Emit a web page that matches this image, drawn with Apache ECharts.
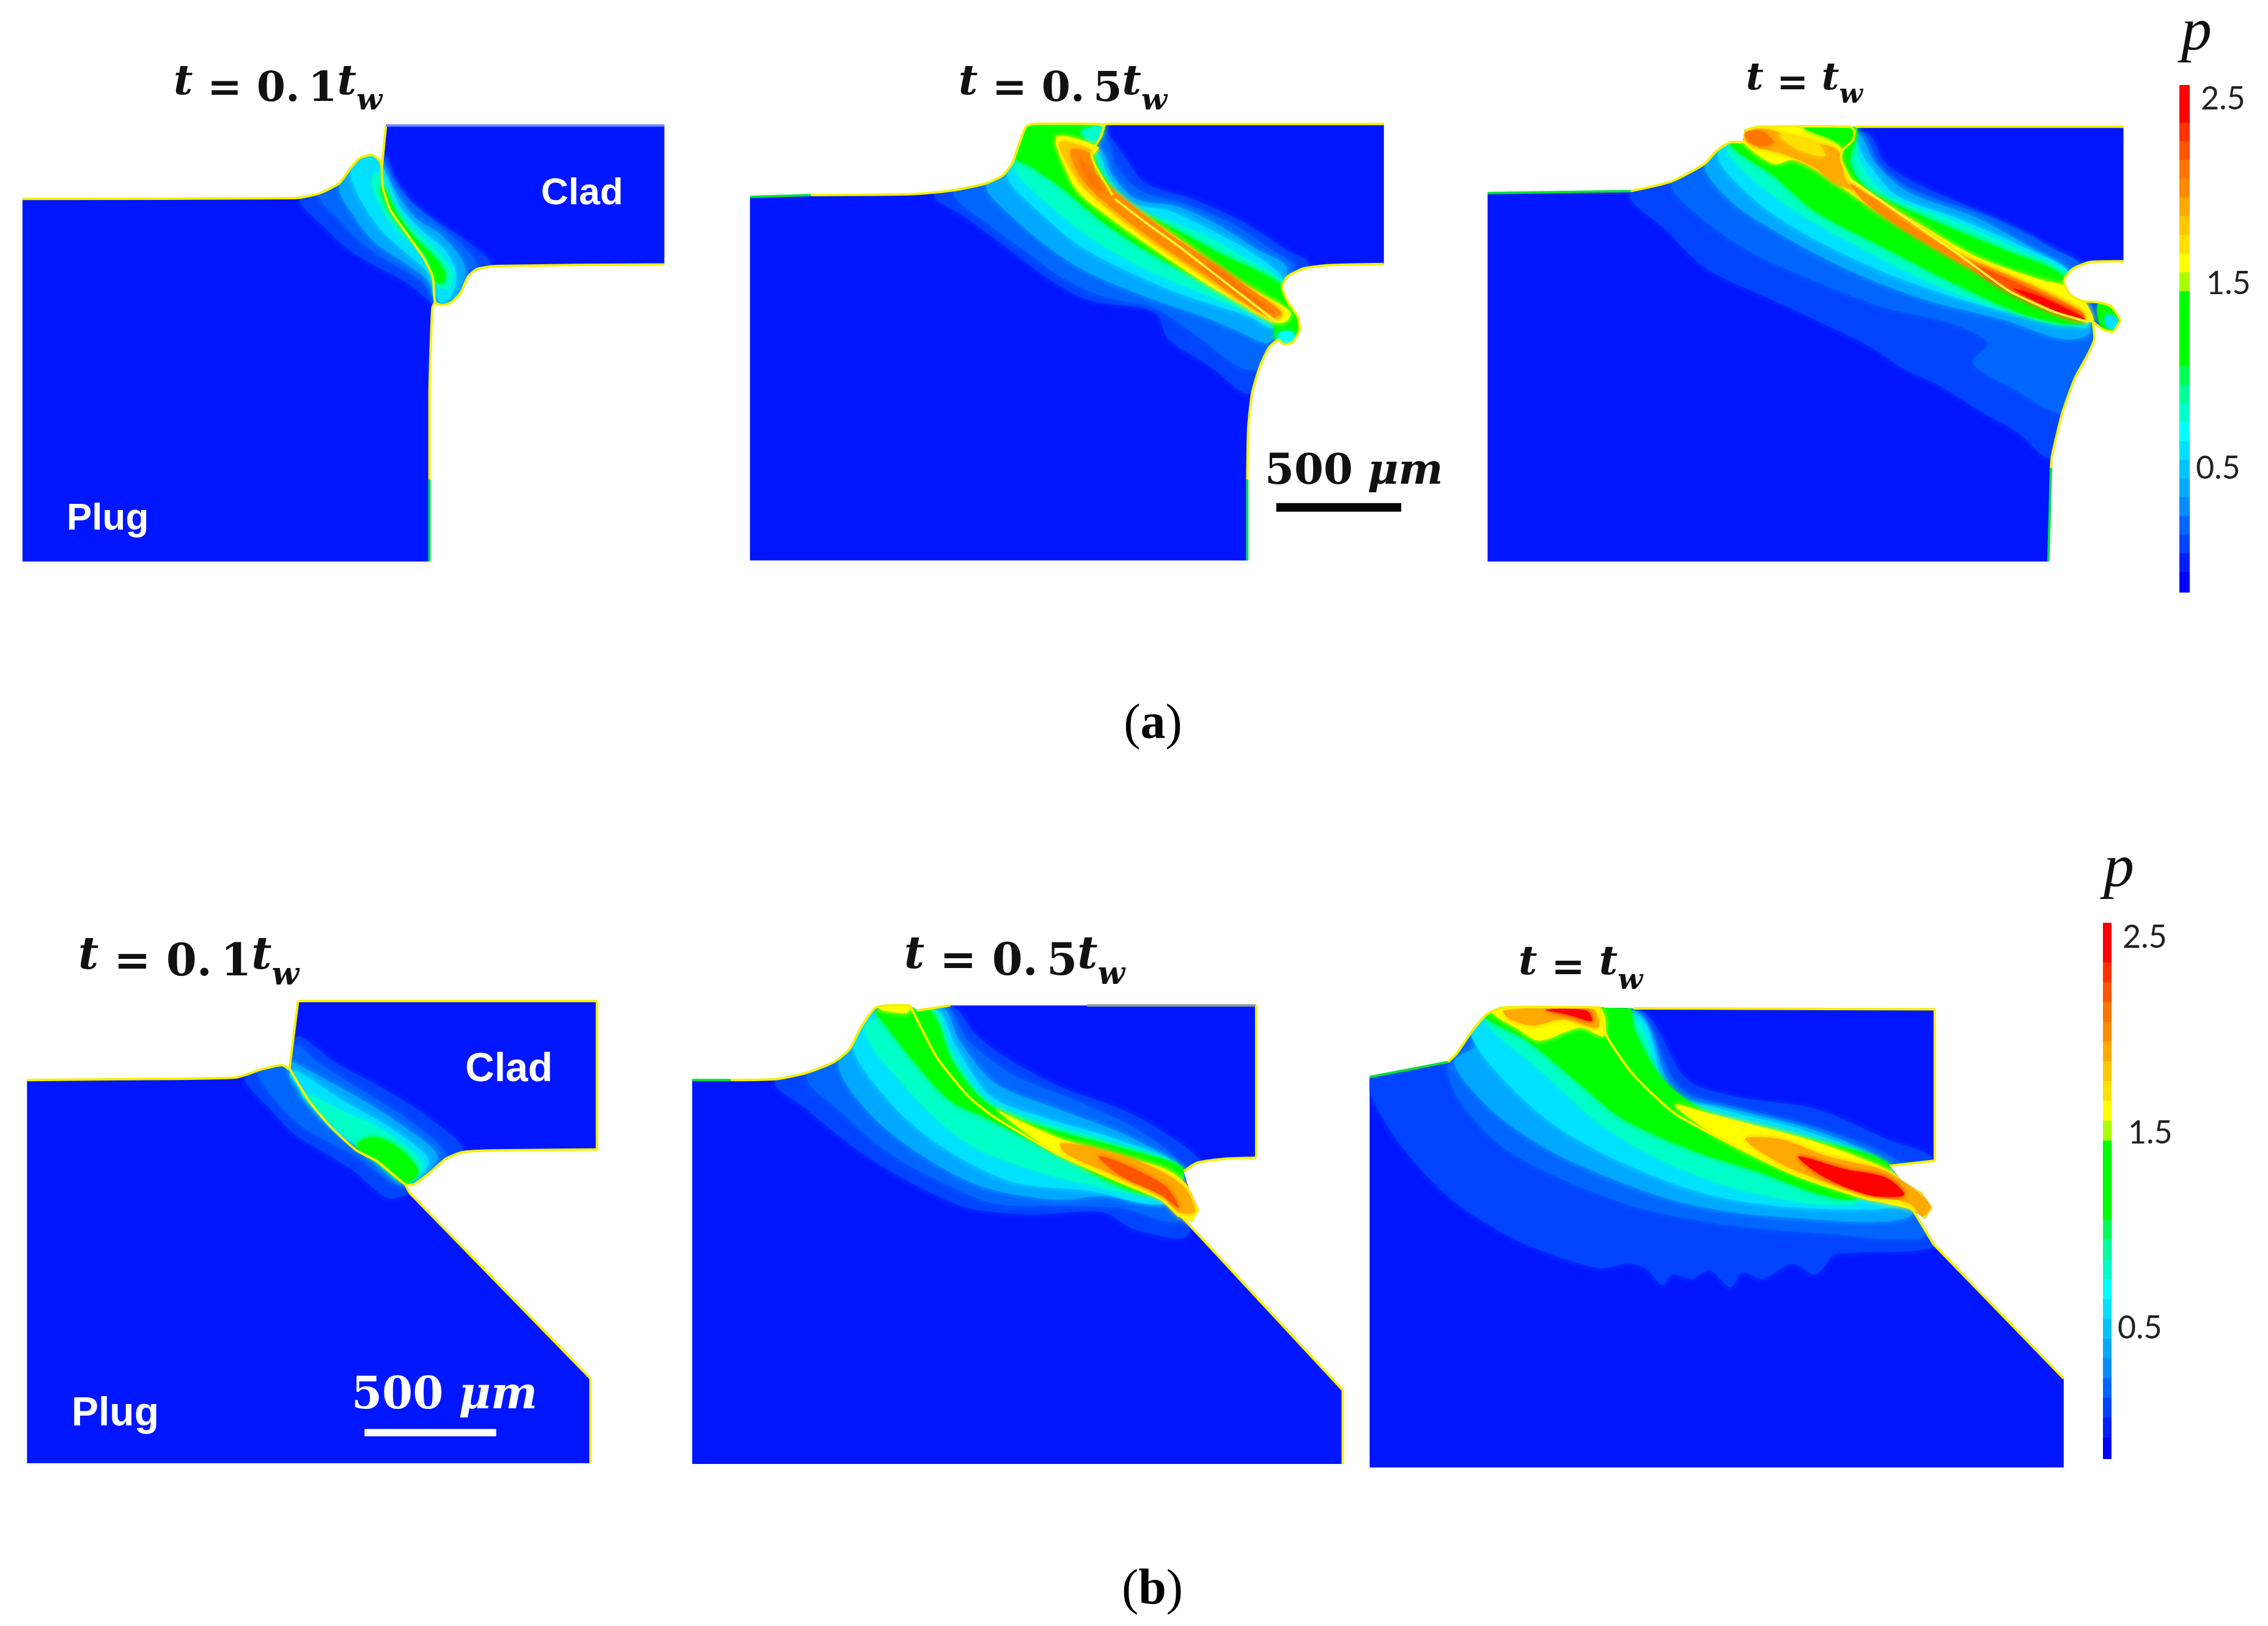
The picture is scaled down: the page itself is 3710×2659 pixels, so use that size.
<!DOCTYPE html>
<html>
<head>
<meta charset="utf-8">
<title>Plastic strain p during friction plug welding</title>
<style>
html, body { margin: 0; padding: 0; background: #fff; }
#main { width: 3710px; height: 2659px; }
</style>
<script src="https://cdn.jsdelivr.net/npm/echarts@6/dist/echarts.min.js"></script>
</head>
<body>
<div id="main"></div>
<script>
// colour bar: p at the cell edges, top to bottom, and the cell colours
var barEdges = [2.576, 2.475, 2.373, 2.272, 2.171, 2.069, 1.968, 1.867, 1.765, 1.664, 1.563, 1.461,
    1.36, 1.259, 1.157, 1.056, 0.955, 0.853, 0.752, 0.651, 0.549, 0.448, 0.347, 0.245, 0.144, 0.043, -0.059, -0.166];
var barColors = ['#ff0000', '#ff0000', '#ff3300', '#ff5500', '#ff7700', '#ff8c00', '#ffaa00', '#ffc800', '#ffe000',
    '#ffff00', '#aaff00', '#00ff00', '#00ff00', '#00ff00', '#00ff00', '#00ff55', '#00ff99', '#00ffc8', '#00ffff',
    '#00e0ff', '#00c4ff', '#00a8ff', '#008cff', '#0066ff', '#0044ff', '#0020ff', '#0000ff'];
var barTicks = [0.5, 1.5, 2.5];
var barTickShift = [0, 17, 8];   // the labels do not line up in the figure

// outlines and contour bands, in each panel's own 0..1568 coordinates. band = [p, points]
var a1Domain = [[48,1440],[48,510],[630,508],[680,497],[725,470],[750,430],[770,405],[795,397],[812,412],[816,430],[825,322],[1420,322],[1420,678],[1060,682],[1020,690],[1000,710],[985,750],[965,775],[945,782],[930,775],[924,790],[918,1000],[918,1440]];
var a1Bands = [
    [0.1, [[640,505],[700,590],[745,640],[800,680],[870,725],[925,780],[950,800],[1000,720],[1050,680],[1000,620],[950,580],[890,530],[850,470],[825,400],[800,380],[750,420]]],
    [0.2, [[680,495],[730,570],[770,620],[830,670],[900,720],[925,760],[960,790],[1000,710],[1020,680],[980,620],[930,570],[880,520],[840,460],[820,410],[795,390],[745,430]]],
    [0.4, [[725,480],[760,560],[800,620],[860,670],[915,720],[935,780],[975,760],[995,700],[985,660],[940,600],[890,560],[850,500],[818,430],[795,400],[770,410]]],
    [0.65, [[750,440],[770,510],[815,590],[870,650],[915,700],[940,775],[965,760],[975,700],[950,640],[900,590],[855,530],[825,450],[810,405],[785,400]]],
    [0.85, [[795,460],[810,520],[850,590],[895,640],[920,690],[930,730],[960,740],[965,695],[930,640],[880,585],[845,530],[822,470],[815,440]]],
    [1.2, [[812,480],[835,545],[880,615],[915,665],[930,720],[948,725],[950,695],[925,655],[880,600],[845,540],[820,480]]]
];
var a1Edges = [
    ['#f4f000', [[48,510],[630,508],[680,497],[725,470],[750,430],[770,405],[795,397],[812,412],[816,430]]],
    ['#f4f000', [[825,322],[816,430]]],
    ['#f4f000', [[816,430],[818,480],[835,540],[870,600],[905,660],[925,710],[930,775],[945,782],[965,775],[985,750],[1000,710],[1020,690],[1060,682],[1420,678]]],
    ['#f4f000', [[930,775],[924,790],[918,1000]]],
    ['#f4f000', [[918,1000],[918,1230]]],
    ['#00e040', [[918,1230],[918,1440]]],
    ['#6f86ff', [[825,322],[1420,322]]]
];

var a2Domain = [[35,1437],[35,505],[165,500],[380,498],[470,488],[540,470],[575,450],[595,420],[610,370],[625,325],[640,318],[780,318],[793,318],[1390,318],[1390,677],[1270,680],[1220,688],[1185,708],[1172,735],[1185,775],[1205,810],[1210,845],[1195,878],[1175,882],[1165,870],[1145,890],[1125,940],[1108,1010],[1100,1100],[1098,1437]];
var a2Bands = [
    [0.1, [[430,495],[500,560],[590,640],[680,720],[760,770],[900,800],[930,870],[1020,940],[1100,1010],[1125,940],[1160,870],[1230,680],[1180,640],[1090,570],[980,510],[880,470],[840,410],[800,340],[790,318],[620,320]]],
    [0.2, [[470,490],[540,570],[620,640],[700,710],[790,760],[900,790],[1000,870],[1080,940],[1125,945],[1160,860],[1180,720],[1200,680],[1150,640],[1060,570],[960,520],[870,490],[820,430],[790,350],[600,330]]],
    [0.4, [[540,475],[600,560],[680,640],[760,700],[880,760],[1000,810],[1080,850],[1140,880],[1160,850],[1180,720],[1180,680],[1120,640],[1040,580],[950,530],[860,510],[810,450],[780,380],[620,400]]],
    [0.65, [[585,450],[660,550],[740,630],[850,700],[970,760],[1100,810],[1155,840],[1175,720],[1110,650],[1020,590],[930,540],[850,520],[800,450],[775,390],[640,360]]],
    [0.85, [[600,430],[700,550],[790,630],[900,700],[1000,750],[1120,810],[1160,830],[1175,730],[1090,660],[1000,600],[900,555],[830,520],[790,440],[770,390],[620,340]]],
    [1.2, [[600,400],[625,320],[795,318],[793,330],[770,400],[800,470],[850,530],[930,580],[1040,650],[1170,730],[1200,800],[1215,850],[1190,885],[1160,880],[1150,820],[1000,720],[880,640],[780,560],[700,480],[640,430]]],
    [0.7, [[1165,855],[1190,850],[1205,870],[1185,882],[1165,875]]],
    [0.85, [[745,335],[785,322],[790,345],[770,365],[750,355]]],
    [1.6, [[690,350],[780,378],[762,410],[800,480],[870,545],[960,620],[1060,705],[1130,755],[1190,800],[1180,825],[1150,825],[1070,770],[1000,720],[900,640],[800,555],[735,490],[705,420]]],
    [1.85, [[695,365],[765,385],[755,415],[790,485],[865,555],[955,630],[1050,715],[1120,765],[1175,805],[1155,818],[1080,770],[1005,710],[905,630],[805,540],[740,470]]],
    [2.0, [[720,385],[760,392],[775,445],[845,520],[945,610],[1045,690],[1115,750],[1170,800],[1150,815],[1085,770],[1015,710],[915,630],[815,540],[745,460]]],
    [2.15, [[1020,680],[1090,740],[1160,805],[1130,790],[1070,745],[1000,685]]],
    [2.15, [[740,405],[760,430],[790,490],[770,480],[748,440]]]
];
var a2Edges = [
    ['#00e040', [[35,505],[165,500]]],
    ['#f4f000', [[165,500],[380,498],[470,488],[540,470],[575,450],[595,420],[610,370],[625,325],[640,318],[780,318],[790,322]]],
    ['#f4f000', [[793,318],[785,350],[770,380],[765,400],[780,440],[810,500]]],
    ['#f4f000', [[793,318],[1390,318]]],
    ['#f4f000', [[1390,677],[1270,680],[1220,688],[1185,708],[1172,735],[1185,775],[1205,810],[1210,845],[1195,878],[1175,882],[1165,870]]],
    ['#f4f000', [[1165,870],[1145,890],[1125,940],[1108,1010],[1100,1100],[1098,1230]]],
    ['#00e040', [[1098,1230],[1098,1437]]],
    ['#ffee30', [[815,510],[880,570],[950,630],[1020,695],[1090,760],[1160,825]]]
];

var a3Domain = [[40,1440],[40,495],[320,490],[400,465],[465,420],[490,385],[515,365],[540,365],[543,335],[570,325],[750,325],[1285,325],[1285,670],[1220,672],[1185,690],[1168,720],[1180,755],[1205,772],[1235,775],[1260,785],[1278,820],[1265,850],[1245,845],[1225,825],[1228,870],[1215,910],[1190,970],[1165,1060],[1145,1170],[1143,1250],[1138,1440]];
var a3Bands = [
    [0.1, [[320,495],[390,590],[470,690],[600,770],[730,850],[790,890],[860,950],[920,985],[1000,1050],[1080,1110],[1140,1175],[1160,1080],[1200,960],[1230,860],[1300,700],[1190,670],[1100,600],[1000,540],[880,470],[820,420],[780,340],[540,330]]],
    [0.2, [[400,470],[460,560],[560,650],[680,720],[820,790],[950,830],[1020,880],[990,930],[1060,990],[1180,1060],[1230,870],[1200,680],[1150,640],[1030,560],[880,490],[810,430],[770,340],[500,340]]],
    [0.4, [[465,425],[520,520],[640,620],[760,700],[900,770],[1050,820],[1170,870],[1220,850],[1180,700],[1110,640],[1000,560],[860,490],[800,420],[760,340],[520,360]]],
    [0.65, [[490,400],[570,520],[690,620],[840,710],[1000,780],[1130,820],[1215,835],[1180,700],[1100,640],[960,560],[840,500],[780,410],[740,330],[540,340]]],
    [0.85, [[510,390],[620,520],[750,620],[900,720],[1040,790],[1180,830],[1180,710],[1080,640],[940,560],[820,500],[770,420],[750,340],[540,340]]],
    [1.2, [[515,368],[600,450],[680,540],[810,630],[960,730],[1100,810],[1210,825],[1170,710],[1050,640],[920,570],[790,490],[750,420],[760,325],[560,330]]],
    [1.6, [[540,335],[570,322],[660,330],[730,375],[730,410],[760,470],[880,570],[1000,660],[1130,720],[1165,730],[1210,775],[1225,825],[1150,800],[1030,710],[900,610],[800,540],[700,450],[640,410],[600,420],[540,365]]],
    [1.2, [[660,328],[755,328],[745,365],[700,350]]],
    [1.2, [[1235,780],[1262,790],[1278,820],[1265,850],[1240,835]]],
    [0.6, [[1250,810],[1272,815],[1268,845],[1252,835]]],
    [1.95, [[545,340],[590,332],[650,360],[725,385],[745,470],[850,560],[980,660],[1120,740],[1200,800],[1190,810],[1060,730],[930,620],[800,510],[720,470],[680,430],[620,395],[560,372]]],
    [1.7, [[610,345],[680,360],[700,400],[650,385]]],
    [2.05, [[750,470],[860,570],[980,665],[1100,735],[1205,800],[1205,820],[1100,770],[1000,700],[880,610],[780,520]]],
    [2.1, [[545,340],[575,335],[600,365],[575,375],[548,362]]],
    [2.2, [[990,680],[1060,715],[1130,760],[1210,815],[1170,810],[1100,775],[1030,725]]],
    [2.5, [[1070,740],[1130,765],[1210,818],[1165,805],[1110,770]]]
];
var a3Edges = [
    ['#00e040', [[40,495],[320,490]]],
    ['#f4f000', [[320,490],[400,465],[465,420],[490,385],[515,365],[540,365]]],
    ['#f4f000', [[543,335],[570,325],[750,325],[758,335],[755,360],[735,385],[732,410],[750,460]]],
    ['#f4f000', [[760,325],[1285,325]]],
    ['#f4f000', [[1285,670],[1220,672],[1185,690],[1168,720],[1180,755],[1205,772],[1235,775],[1260,785],[1278,820],[1265,850],[1245,845],[1225,825]]],
    ['#f4f000', [[1225,825],[1228,870],[1215,910],[1190,970],[1165,1060],[1145,1170],[1143,1200]]],
    ['#00e040', [[1143,1200],[1138,1440]]],
    ['#ffee30', [[750,460],[860,560],[960,650],[1060,745],[1150,800],[1215,825]]]
];

var b1Domain = [[63,1415],[63,522],[280,520],[550,516],[610,497],[658,487],[674,497],[695,338],[1392,338],[1392,684],[1150,686],[1080,690],[1040,705],[1000,740],[965,765],[945,765],[955,785],[1377,1218],[1377,1415]];
var b1Bands = [
    [0.1, [[570,515],[640,600],[690,650],[820,730],[900,795],[945,790],[965,770],[1080,690],[1000,610],[890,540],[780,480],[700,420],[680,430],[655,485]]],
    [0.2, [[600,505],[660,590],[720,640],[830,700],[940,770],[1040,700],[960,620],[850,550],[740,480],[690,440],[675,470],[640,490]]],
    [0.4, [[672,500],[740,600],[850,690],[950,765],[1020,700],[940,630],[830,560],[720,500],[680,480]]],
    [0.65, [[675,510],[760,620],[850,690],[950,760],[1000,710],[920,640],[800,570],[690,500]]],
    [0.85, [[700,550],[790,640],[860,690],[950,760],[985,720],[910,650],[790,590]]],
    [1.2, [[830,675],[880,712],[945,762],[975,735],[930,680],[870,655]]]
];
var b1Edges = [
    ['#f4f000', [[63,522],[280,520],[550,516],[610,497],[658,487],[674,497]]],
    ['#f4f000', [[695,338],[675,495]]],
    ['#f4f000', [[675,495],[720,570],[770,630],[830,685],[880,712],[945,765],[965,765],[1000,740],[1040,705],[1080,690],[1150,686],[1392,684]]],
    ['#f4f000', [[1392,684],[1392,338]]],
    ['#f4f000', [[1392,338],[695,338]]],
    ['#f4f000', [[945,765],[955,785]]],
    ['#f4f000', [[955,785],[1377,1218]]],
    ['#f4f000', [[1377,1218],[1377,1415]]]
];

var b2Domain = [[44,1417],[44,522],[130,522],[230,520],[300,505],[360,480],[395,450],[420,400],[455,352],[530,348],[545,360],[620,348],[1302,348],[1302,703],[1240,705],[1170,715],[1140,735],[1150,770],[1175,825],[1160,852],[1140,845],[1495,1245],[1495,1417]];
var b2Bands = [
    [0.1, [[230,522],[300,590],[420,690],[530,760],[660,820],[800,835],[960,830],[1030,870],[1140,890],[1160,850],[1180,720],[1090,640],[1000,590],[870,540],[760,480],[680,420],[620,348],[450,355]]],
    [0.2, [[300,510],[380,600],[480,690],[600,760],[720,810],[850,815],[1000,820],[1130,850],[1130,720],[1040,640],[900,570],[760,510],[660,430],[610,350],[455,355]]],
    [0.4, [[370,480],[440,600],[560,700],[690,770],[850,800],[1000,790],[1100,810],[1130,730],[1010,650],[860,590],[720,530],[640,430],[600,350],[450,360]]],
    [0.65, [[400,440],[500,590],[620,690],[760,760],[930,780],[1090,810],[1140,730],[990,660],[830,610],[710,560],[630,440],[590,360],[455,360]]],
    [0.85, [[430,400],[540,560],[660,670],[800,730],[950,770],[1080,790],[1130,730],[970,665],[820,620],[700,570],[620,450],[580,355]]],
    [1.2, [[455,360],[480,400],[540,480],[620,570],[700,610],[860,695],[1000,770],[1090,790],[1140,730],[1000,680],[820,630],[700,575],[625,480],[570,355]]],
    [1.6, [[720,590],[760,610],[870,660],[1000,700],[1100,730],[1150,770],[1175,825],[1160,855],[1130,840],[1090,800],[1000,760],[860,695]]],
    [1.9, [[865,670],[940,680],[1050,715],[1140,770],[1165,830],[1130,830],[1090,790],[1000,750],[880,695]]],
    [2.2, [[950,700],[1000,715],[1100,770],[1130,820],[1090,790],[1000,745]]],
    [1.6, [[455,350],[530,348],[525,365],[470,360]]]
];
var b2Edges = [
    ['#00e040', [[44,522],[130,522]]],
    ['#f4f000', [[130,522],[230,520],[300,505],[360,480],[395,450],[420,400],[455,352],[530,348]]],
    ['#f4f000', [[530,348],[545,380],[590,470],[660,560],[720,610],[860,695],[1000,760],[1090,800],[1130,840]]],
    ['#f4f000', [[545,360],[620,348]]],
    ['#8a9a9a', [[925,348],[1302,348]]],
    ['#f4f000', [[1302,348],[1302,703]]],
    ['#f4f000', [[1302,703],[1240,705],[1170,715],[1140,735]]],
    ['#f4f000', [[1140,845],[1495,1245]]],
    ['#f4f000', [[1495,1245],[1495,1417]]]
];

var b3Domain = [[42,1425],[42,515],[175,480],[190,460],[215,410],[240,370],[268,353],[432,353],[490,355],[1002,357],[1002,710],[925,722],[945,755],[980,785],[998,820],[985,845],[965,825],[1000,905],[1221,1218],[1221,1425]];
var b3Bands = [
    [0.1, [[42,520],[60,600],[110,700],[190,810],[300,900],[430,960],[480,950],[510,960],[540,1000],[555,975],[590,985],[620,965],[655,1005],[675,970],[710,985],[760,950],[800,975],[830,930],[860,925],[1000,910],[990,850],[1000,710],[920,660],[800,590],[660,560],[580,520],[500,360],[240,370],[175,480]]],
    [0.2, [[175,490],[200,580],[270,680],[380,760],[500,820],[650,860],[820,880],[980,890],[990,830],[950,720],[820,640],[680,590],[570,540],[490,360],[240,370]]],
    [0.4, [[190,470],[240,580],[340,680],[450,750],[580,810],[730,840],[960,840],[925,722],[800,640],[660,590],[560,550],[490,360]]],
    [0.65, [[215,420],[290,550],[370,640],[480,720],[620,790],[780,820],[950,810],[920,720],[780,640],[640,590],[550,550],[495,370],[240,370]]],
    [0.85, [[240,375],[350,520],[430,620],[540,710],[680,780],[860,810],[930,730],[760,650],[620,600],[540,550],[490,380]]],
    [1.2, [[240,372],[310,430],[390,520],[470,610],[580,680],[690,730],[860,800],[925,720],[760,650],[620,600],[540,520],[490,400],[485,355],[432,350]]],
    [1.6, [[560,580],[620,600],[690,625],[760,650],[830,680],[920,730],[980,785],[998,820],[985,845],[965,825],[890,800],[760,740],[640,660]]],
    [1.95, [[680,660],[740,660],[820,700],[910,730],[960,770],[995,815],[980,840],[960,810],[890,790],[760,730]]],
    [2.4, [[770,700],[850,730],[920,750],[950,790],[890,790],[810,745]]],
    [1.6, [[250,365],[270,353],[432,353],[440,420],[400,400],[330,430],[290,400]]],
    [1.95, [[270,360],[420,355],[430,400],[370,380],[320,395],[280,380]]],
    [2.4, [[340,358],[410,360],[420,385],[380,370]]]
];
var b3Edges = [
    ['#00e040', [[42,515],[175,480]]],
    ['#f4f000', [[175,480],[190,460],[215,410],[240,370],[268,353],[432,353]]],
    ['#f4f000', [[432,350],[445,420],[490,510],[560,600],[640,660],[760,740],[890,800],[940,805],[965,825]]],
    ['#f4f000', [[490,355],[1002,357]]],
    ['#f4f000', [[1002,357],[1002,710]]],
    ['#f4f000', [[1002,710],[925,722]]],
    ['#f4f000', [[965,825],[1000,905]]],
    ['#f4f000', [[1000,905],[1221,1218]]]
];

// scale bars, in the coordinates of their panels
var a2ScaleBar = [[1160,1301],[1427,1301]];
var b1ScaleBar = [[850,1344],[1157,1344]];

var panelBoxes = [
    [0, 0, 1200, 1000], [1200, 0, 1200, 1000], [2400, 0, 1310, 1000],
    [0, 1400, 1100, 1100], [1100, 1400, 1150, 1100], [2200, 1400, 1510, 1100]
];
var barBoxes = [[3565, 139, 17, 829], [3440, 1509, 14, 876]];

function colorOf(p) {
    for (var i = 0; i < barColors.length; i++) {
        if (p <= barEdges[i] && p > barEdges[i + 1]) return barColors[i];
    }
    return barColors[0];
}

var grids = [], xAxes = [], yAxes = [], series = [];

panelBoxes.forEach(function (b) {
    grids.push({ left: b[0], top: b[1], width: b[2], height: b[3] });
    xAxes.push({ gridIndex: grids.length - 1, type: 'value', min: 0, max: 1568, show: false });
    yAxes.push({ gridIndex: grids.length - 1, type: 'value', min: 0, max: 1568, inverse: true, show: false });
});
barBoxes.forEach(function (b) {
    grids.push({ left: b[0], top: b[1], width: b[2], height: b[3] });
    xAxes.push({ gridIndex: grids.length - 1, type: 'value', min: 0, max: 1, show: false });
    yAxes.push({
        gridIndex: grids.length - 1, type: 'value', position: 'right',
        min: barEdges[barEdges.length - 1], max: barEdges[0],
        splitLine: { show: false }, axisLine: { show: false }, axisTick: { show: false },
        axisLabel: {
            customValues: barTicks, margin: 10,
            fontFamily: 'Lato', fontSize: 52, color: '#222',
            formatter: function (v) {
                return '{s' + barTicks.indexOf(v) + '|' + v.toFixed(1) + '}';
            },
            rich: {
                s0: { padding: [0, 0, 0, barTickShift[0]] },
                s1: { padding: [0, 0, 0, barTickShift[1]] },
                s2: { padding: [0, 0, 0, barTickShift[2]] }
            }
        }
    });
});

function toPoints(api, pts) {
    return pts.map(function (d) { return api.coord(d); });
}

function addPanel(idx, domain, bands, edges) {
    series.push({
        type: 'custom', xAxisIndex: idx, yAxisIndex: idx, silent: true, clip: false,
        data: [[0]],
        renderItem: function (params, api) {
            var clip = toPoints(api, domain);
            var children = [{ type: 'polygon', shape: { points: clip }, style: { fill: '#0016ff' } }];
            bands.forEach(function (b) {
                children.push({
                    type: 'polygon',
                    shape: { points: toPoints(api, b[1]), smooth: 0.3 },
                    style: { fill: colorOf(b[0]), shadowColor: colorOf(b[0]), shadowBlur: 10 },
                    clipPath: { type: 'polygon', shape: { points: clip } }
                });
            });
            edges.forEach(function (e) {
                children.push({
                    type: 'polyline',
                    shape: { points: toPoints(api, e[1]), smooth: 0.2 },
                    style: { stroke: e[0], lineWidth: 4, fill: null }
                });
            });
            return { type: 'group', children: children };
        }
    });
}

addPanel(0, a1Domain, a1Bands, a1Edges);
addPanel(1, a2Domain, a2Bands, a2Edges);
addPanel(2, a3Domain, a3Bands, a3Edges);
addPanel(3, b1Domain, b1Bands, b1Edges);
addPanel(4, b2Domain, b2Bands, b2Edges);
addPanel(5, b3Domain, b3Bands, b3Edges);

function addScaleBar(idx, pts, color, width) {
    series.push({
        type: 'line', xAxisIndex: idx, yAxisIndex: idx, data: pts, silent: true, clip: false,
        symbol: 'none', lineStyle: { color: color, width: width, cap: 'butt' }, z: 5
    });
}
addScaleBar(1, a2ScaleBar, '#000', 14);
addScaleBar(3, b1ScaleBar, '#fff', 12);

[6, 7].forEach(function (idx) {
    series.push({
        type: 'custom', xAxisIndex: idx, yAxisIndex: idx, silent: true, clip: false,
        data: barColors.map(function (c, i) { return [i]; }),
        renderItem: function (params, api) {
            var i = params.dataIndex;
            var a = api.coord([0, barEdges[i]]);
            var b = api.coord([1, barEdges[i + 1]]);
            return { type: 'rect', shape: { x: a[0], y: a[1], width: b[0] - a[0], height: b[1] - a[1] + 1 }, style: { fill: barColors[i] } };
        }
    });
});

// math labels, bold upright digits with italic t and a lowered w
function mathTitle(text, left, top, size) {
    return {
        text: text, left: left, top: top, textVerticalAlign: 'middle',
        textStyle: {
            fontFamily: 'DejaVu Serif', fontWeight: 'bold', fontSize: size, color: '#111',
            rich: {
                n: { fontFamily: 'DejaVu Serif', fontWeight: 'bold', fontSize: size, verticalAlign: 'top', lineHeight: size * 1.3 },
                i: { fontFamily: 'DejaVu Serif', fontWeight: 'bold', fontStyle: 'italic', fontSize: size, verticalAlign: 'top', lineHeight: size * 1.3 },
                w: { fontFamily: 'DejaVu Serif', fontWeight: 'bold', fontStyle: 'italic', fontSize: size * 0.72, verticalAlign: 'bottom', lineHeight: size * 1.1 }
            }
        }
    };
}
function plainTitle(text, left, top, size, color) {
    return {
        text: text, left: left, top: top, textVerticalAlign: 'middle',
        textStyle: { fontFamily: 'Liberation Sans', fontWeight: 'bold', fontSize: size, color: color }
    };
}
function scaleTitle(left, top, size, color) {
    return {
        text: '{n|500 }{i|μm}', left: left, top: top, textVerticalAlign: 'middle',
        textStyle: {
            rich: {
                n: { fontFamily: 'DejaVu Serif', fontWeight: 'bold', fontSize: size, color: color },
                i: { fontFamily: 'DejaVu Serif', fontWeight: 'bold', fontStyle: 'italic', fontSize: size, color: color }
            }
        }
    };
}
function captionTitle(letter, left, top) {
    return {
        text: '{r|(}{b|' + letter + '}{r|)}', left: left, top: top, textAlign: 'center', textVerticalAlign: 'middle',
        textStyle: {
            rich: {
                r: { fontFamily: 'Liberation Serif', fontWeight: 'normal', fontSize: 82, color: '#000' },
                b: { fontFamily: 'Liberation Serif', fontWeight: 'bold', fontSize: 82, color: '#000' }
            }
        }
    };
}
function pTitle(left, top) {
    return {
        text: 'p', left: left, top: top, textVerticalAlign: 'middle',
        textStyle: { fontFamily: 'Liberation Serif', fontWeight: 'normal', fontStyle: 'italic', fontSize: 100, color: '#111' }
    };
}

var myChart = echarts.init(document.getElementById('main'), null, { renderer: 'canvas' });
var option = {
    backgroundColor: '#fff',
    animation: false,
    title: [
        mathTitle('{i|t} = 0.\u20091{i|t}{w|w}', 279, 142, 68),
        mathTitle('{i|t} = 0.\u20095{i|t}{w|w}', 1563, 142, 68),
        mathTitle('{i|t} = {i|t}{w|w}', 2851, 134, 62),
        mathTitle('{i|t} = 0.\u20091{i|t}{w|w}', 123, 1571, 72),
        mathTitle('{i|t} = 0.\u20095{i|t}{w|w}', 1474, 1570, 72),
        mathTitle('{i|t} = {i|t}{w|w}', 2479, 1581, 66),
        plainTitle('Clad', 880, 312, 62, '#fff'),
        plainTitle('Plug', 104, 844, 62, '#fff'),
        plainTitle('Clad', 756, 1745, 66, '#fff'),
        plainTitle('Plug', 112, 2308, 66, '#fff'),
        scaleTitle(2064, 768, 69, '#111'),
        scaleTitle(570, 2279, 72, '#fff'),
        captionTitle('a', 1881, 1181),
        captionTitle('b', 1880, 2596),
        pTitle(3563, 50),
        pTitle(3436, 1418)
    ],
    grid: grids,
    xAxis: xAxes,
    yAxis: yAxes,
    series: series
};
myChart.setOption(option);
</script>
</body>
</html>
